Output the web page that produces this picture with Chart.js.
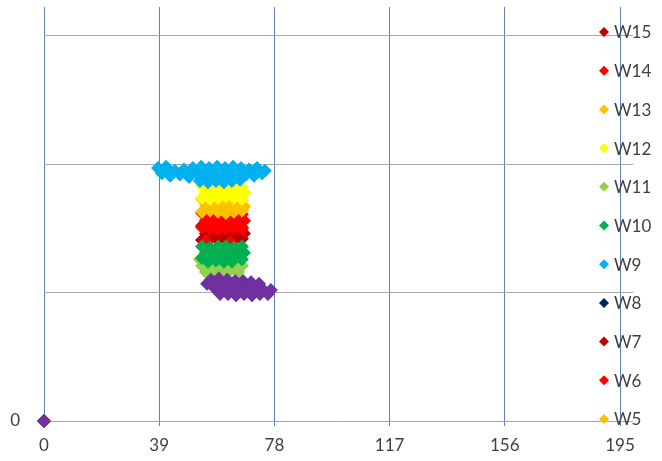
<!DOCTYPE html>
<html>
<head>
<meta charset="utf-8">
<script src="https://cdn.jsdelivr.net/npm/chart.js@4/dist/chart.umd.min.js"></script>
<style>
html,body{margin:0;padding:0;background:#fff;}
#c{display:block;}
</style>
</head>
<body>
<canvas id="c" width="662" height="461"></canvas>
<script>
// ---- data ----
const seriesLabels = ["W15","W14","W13","W12","W11","W10","W9","W8","W7","W6","W5","W4"];
const seriesColors = ["#C00000","#FF0000","#FFC000","#FFFF00","#92D050","#00B050","#00B0F0","#002060","#C00000","#FF0000","#FFC000","#7030A0"];
const xTicks = [0, 39, 78, 117, 156, 195];
const yTicks = [0, 10, 20, 30];
const yTickLabels = ["0", "", "", ""];

const w15X = [0, 53.5, 56.2, 58.9, 61.6, 64.3, 67.0, 54.8, 57.6, 60.3, 63.0, 65.7, 67.7, 53.5, 56.2, 58.9, 61.6, 64.3, 67.0];
const w15Y = [0, 15.2, 15.1, 15.2, 15.1, 15.2, 15.1, 14.6, 14.7, 14.5, 14.6, 14.7, 14.6, 14.1, 14.2, 14.1, 14.2, 14.1, 14.2];
const w14X = [0, 53.5, 56.2, 58.9, 61.6, 64.3, 67.0, 54.8, 57.6, 60.3, 63.0, 65.7, 67.7, 53.5, 56.2, 58.9, 61.6, 64.3, 67.0, 54.8, 63.0];
const w14Y = [0, 16.2, 16.1, 16.2, 16.1, 16.2, 16.1, 15.6, 15.7, 15.6, 15.5, 15.6, 15.6, 15.1, 15.0, 14.9, 15.0, 15.1, 15.0, 14.0, 13.9];
const w13X = [0, 53.5, 56.2, 58.9, 61.6, 64.3, 67.0, 54.8, 57.6, 60.3, 63.0, 65.7, 67.7, 53.5, 56.2, 58.9, 61.6, 64.3, 67.0];
const w13Y = [0, 17.3, 17.2, 17.3, 17.2, 17.3, 17.2, 16.8, 16.7, 16.8, 16.9, 16.8, 16.7, 16.3, 16.4, 16.3, 16.2, 16.3, 16.4];
const w12X = [0, 53.5, 56.2, 58.9, 61.6, 64.3, 67.0, 54.8, 57.6, 60.3, 63.0, 65.7, 67.7, 53.5, 56.2, 58.9, 61.6, 64.3, 67.0];
const w12Y = [0, 18.3, 18.2, 18.3, 18.2, 18.3, 18.2, 17.8, 17.9, 17.7, 17.8, 17.9, 17.8, 17.4, 17.3, 17.4, 17.5, 17.4, 17.3];
const w11X = [0, 52.8, 55.5, 58.2, 60.9, 63.6, 66.4, 53.5, 56.2, 58.9, 61.6, 64.3, 67.0, 54.8, 57.6, 60.3, 63.0, 65.7];
const w11Y = [0, 12.6, 12.5, 12.6, 12.5, 12.6, 12.5, 12.1, 12.0, 12.1, 12.0, 12.1, 12.1, 11.6, 11.7, 11.6, 11.7, 11.6];
const w10X = [0, 53.5, 56.2, 58.9, 61.6, 64.3, 67.0, 54.8, 57.6, 60.3, 63.0, 65.7, 67.7, 53.5, 56.2, 58.9, 61.6, 64.3, 67.0, 55.5, 58.2, 60.9, 63.6];
const w10Y = [0, 13.6, 13.5, 13.6, 13.6, 13.5, 13.6, 13.1, 13.2, 13.1, 13.0, 13.1, 13.1, 12.7, 12.6, 12.7, 12.6, 12.7, 12.6, 12.4, 12.5, 12.4, 12.4];
const w9X = [0, 38.6, 41.3, 44.3, 47.4, 50.4, 53.2, 55.9, 58.6, 61.3, 64.0, 66.7, 69.4, 72.1, 74.8, 39.9, 42.7, 46.0, 49.1, 52.1, 54.8, 57.6, 60.3, 63.0, 65.7, 68.4, 71.1, 73.8, 52.8, 55.5, 58.2, 60.9, 63.6, 66.4];
const w9Y = [0, 19.7, 19.8, 19.5, 19.6, 19.7, 19.8, 19.7, 19.8, 19.7, 19.8, 19.7, 19.6, 19.7, 19.5, 19.3, 19.1, 19.2, 19.0, 19.2, 19.1, 19.2, 19.1, 19.2, 19.1, 19.2, 19.1, 19.3, 18.7, 18.6, 18.7, 18.6, 18.7, 18.8];
const w8X = [0];
const w8Y = [0];
const w7X = [0];
const w7Y = [0];
const w6X = [0];
const w6Y = [0];
const w5X = [0];
const w5Y = [0];
const w4X = [0, 55.2, 56.5, 59.2, 62.0, 64.7, 67.4, 70.1, 72.8, 57.6, 60.3, 63.0, 65.7, 68.4, 71.1, 73.8, 76.8, 59.6, 62.3, 65.0, 67.7, 70.4, 73.1, 75.8];
const w4Y = [0, 10.7, 11.0, 11.1, 11.0, 10.9, 10.9, 10.8, 10.7, 10.4, 10.4, 10.3, 10.4, 10.3, 10.4, 10.3, 10.2, 9.9, 9.9, 9.8, 9.9, 9.8, 9.9, 9.9];

const seriesX = [w15X, w14X, w13X, w12X, w11X, w10X, w9X, w8X, w7X, w6X, w5X, w4X];
const seriesY = [w15Y, w14Y, w13Y, w12Y, w11Y, w10Y, w9Y, w8Y, w7Y, w6Y, w5Y, w4Y];
const legendCount = 11; // W15..W5 fit in the legend box

const FONT = "Lato, 'Open Sans', sans-serif";
const TEXT = "#404040";

const datasets = seriesLabels.map((lab, i) => ({
  label: lab,
  data: seriesX[i].map((x, j) => ({x: x, y: seriesY[i][j]})),
  backgroundColor: seriesColors[i],
  borderColor: seriesColors[i],
  pointStyle: 'rectRot',
  pointRadius: 7,
  pointBorderWidth: 0,
  pointHoverRadius: 7,
  showLine: false,
  clip: false,
  order: -i
}));

const overlayLegend = {
  id: 'overlayLegend',
  afterDraw(chart) {
    const ctx = chart.ctx;
    ctx.save();
    ctx.font = "17px " + FONT;
    ctx.textBaseline = 'middle';
    ctx.textAlign = 'left';
    for (let i = 0; i < legendCount; i++) {
      const ds = chart.data.datasets[i];
      const y = 32 + i * 38.7;
      const x = 604;
      const r = 5;
      ctx.fillStyle = ds.backgroundColor;
      ctx.beginPath();
      ctx.moveTo(x - r, y); ctx.lineTo(x, y - r); ctx.lineTo(x + r, y); ctx.lineTo(x, y + r);
      ctx.closePath();
      ctx.fill();
      ctx.fillStyle = TEXT;
      ctx.fillText(ds.label, 614, y + 1);
    }
    ctx.restore();
  }
};

function zeroPad(s) { s.paddingTop = 0; s.paddingBottom = 0; s.paddingLeft = 0; s.paddingRight = 0; }

new Chart(document.getElementById('c'), {
  type: 'scatter',
  data: { datasets },
  plugins: [overlayLegend],
  options: {
    responsive: false,
    animation: false,
    events: [],
    layout: { padding: { left: 0, top: 6, right: 29, bottom: 0 } },
    plugins: { legend: { display: false }, tooltip: { enabled: false } },
    scales: {
      x: {
        type: 'linear',
        min: 0,
        max: 199.4,
        afterBuildTicks: (s) => { s.ticks = xTicks.map(v => ({value: v})); },
        afterFit: (s) => { s.height = 40; zeroPad(s); },
        border: { display: false },
        grid: { color: '#5F82B8', lineWidth: 1, drawTicks: true, tickLength: 5, tickColor: '#5F82B8' },
        ticks: { color: TEXT, font: { family: FONT, size: 17 }, padding: 9, maxRotation: 0, autoSkip: false }
      },
      y: {
        type: 'linear',
        min: 0,
        max: 32.25,
        afterBuildTicks: (s) => { s.ticks = yTicks.map(v => ({value: v})); },
        afterFit: (s) => { s.width = 44; zeroPad(s); },
        border: { display: false },
        grid: { color: '#A6A6A6', lineWidth: 1, drawTicks: false },
        ticks: {
          color: TEXT, font: { family: FONT, size: 17 }, padding: 24,
          callback: (v) => { const k = yTicks.indexOf(v); return k >= 0 ? yTickLabels[k] : ''; }
        }
      }
    }
  }
});
</script>
</body>
</html>
